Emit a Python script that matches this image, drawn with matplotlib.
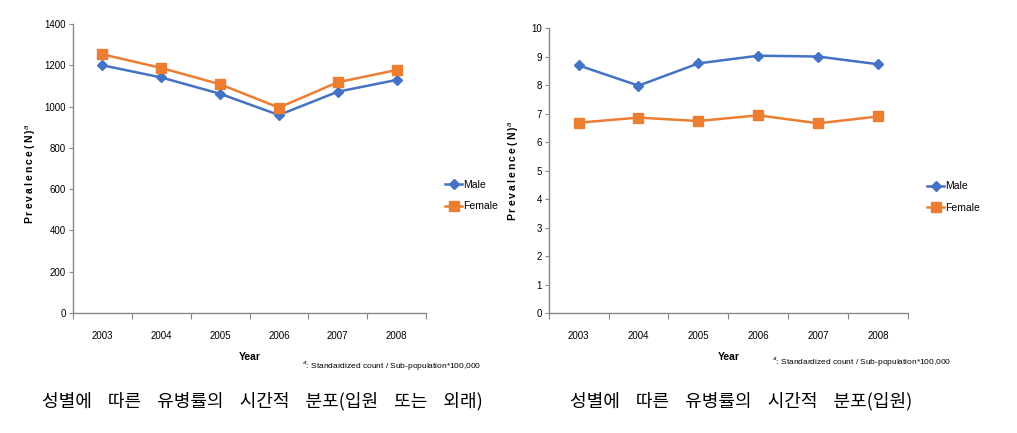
import matplotlib.pyplot as plt
from matplotlib.ticker import FixedLocator

years = ["2003", "2004", "2005", "2006", "2007", "2008"]

# outpatient or inpatient
male_all = [1200, 1141, 1062, 959, 1072, 1129]
female_all = [1253, 1187, 1108, 995, 1118, 1177]

# inpatient only
male_in = [8.69, 7.98, 8.76, 9.03, 9.00, 8.73]
female_in = [6.68, 6.86, 6.74, 6.94, 6.66, 6.90]

captions = ["성별에 따른 유병률의 시간적 분포(입원 또는 외래)", "성별에 따른 유병률의 시간적 분포(입원)"]

blue = "#4472C4"
orange = "#ED7D31"
grey = "#888888"

plt.rcParams["font.family"] = ["Liberation Sans", "DejaVu Sans"]

fig = plt.figure(figsize=(10.17, 4.33), dpi=100)

W, H = 1017, 433

panels = [
    # axes rect, male, female, ymax, step, ylabel xy (axes), legend xy (px), footnote xy (px)
    ([0.0718, 0.2771, 0.3471, 0.6675], male_all, female_all, 1400, 200, (-0.099, 0.48), (436, 195.5), (302, 366)),
    ([0.5395, 0.2764, 0.3533, 0.6589], male_in, female_in, 10, 1, (-0.077, 0.50), (918, 197), (772, 362)),
]

for rect, male, female, ymax, ystep, ylab_xy, leg_px, foot_px in panels:
    ax = fig.add_axes(rect)
    x = range(len(years))
    ax.plot(x, male, color=blue, lw=1.8, marker="D", ms=5, label="Male")
    ax.plot(x, female, color=orange, lw=1.8, marker="s", ms=6.5, label="Female")

    ax.set_xlim(-0.5, len(years) - 0.5)
    ax.set_ylim(0, ymax)
    ax.set_yticks([v * ystep for v in range(int(ymax / ystep) + 1)])
    ax.xaxis.set_major_locator(FixedLocator([k - 0.5 for k in range(len(years) + 1)]))
    ax.xaxis.set_minor_locator(FixedLocator(list(x)))
    ax.set_xticklabels([], minor=False)
    ax.set_xticklabels(years, minor=True)
    ax.tick_params(axis="x", which="major", length=4, color=grey, direction="out")
    ax.tick_params(axis="x", which="minor", length=0, pad=13, labelsize=7)
    ax.tick_params(axis="y", length=3, color=grey, labelsize=7, pad=2)

    for s in ["top", "right"]:
        ax.spines[s].set_visible(False)
    for s in ["left", "bottom"]:
        ax.spines[s].set_color(grey)
        ax.spines[s].set_linewidth(1.0)

    ax.set_ylabel("P\u2009r\u2009e\u2009v\u2009a\u2009l\u2009e\u2009n\u2009c\u2009e\u2009(\u2009N\u2009)$^{a}$",
                  fontsize=7.5, fontweight="bold")
    ax.yaxis.set_label_coords(*ylab_xy)
    ax.set_xlabel("Year", fontsize=7.5, fontweight="bold", labelpad=8)

    ax.legend(loc="center left", bbox_to_anchor=(leg_px[0] / W, 1 - leg_px[1] / H),
              bbox_transform=fig.transFigure, frameon=False, handlelength=1.6,
              handletextpad=0.15, labelspacing=1.1, fontsize=7.5)

    fig.text(foot_px[0] / W, 1 - foot_px[1] / H,
             r"$^{a}$: Standardized count / Sub-population*100,000",
             ha="left", va="center", fontsize=6)

cjk = ["Noto Sans CJK KR", "DejaVu Sans"]
fig.text(42 / W, 1 - 401 / H, captions[0].replace(" ", "    "), fontsize=13, family=cjk,
         va="center", ha="left")
fig.text(570 / W, 1 - 401 / H, captions[1].replace(" ", "    "), fontsize=13, family=cjk,
         va="center", ha="left")

fig.savefig("out.png", dpi=100)
